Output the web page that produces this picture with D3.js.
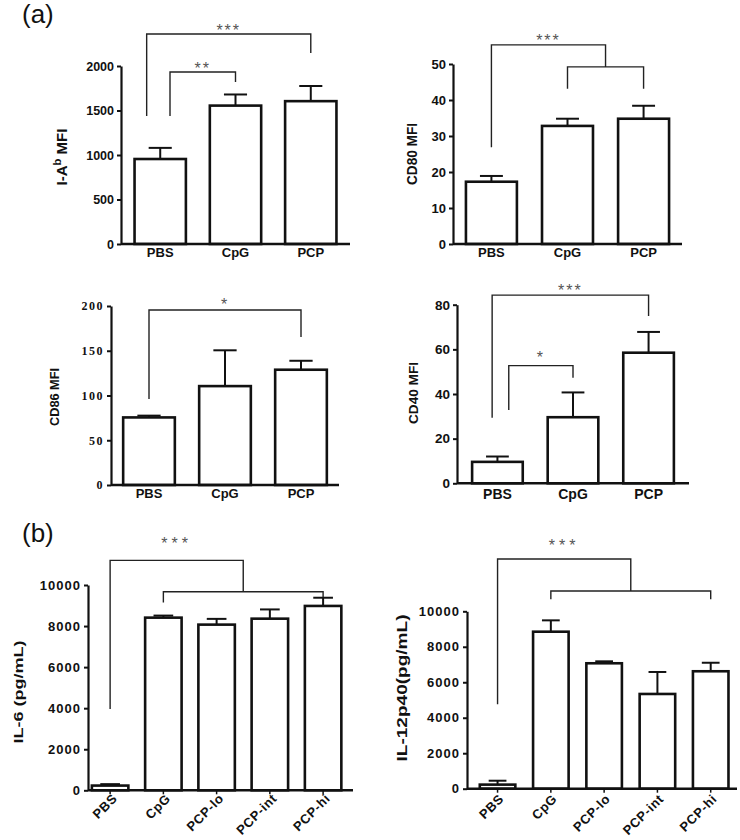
<!DOCTYPE html>
<html lang="en">
<head>
<meta charset="utf-8">
<script src="https://cdn.jsdelivr.net/npm/d3@7/dist/d3.min.js"></script>
<style>
  body { margin: 0; background: #fff; }
  svg { display: block; }
  text { font-family: "Liberation Sans", Arial, sans-serif; }
</style>
</head>
<body>
<svg id="chart" width="740" height="840"></svg>
<script>
// ---- data ----
var catsA = ["PBS", "CpG", "PCP"];
var catsB = ["PBS", "CpG", "PCP-lo", "PCP-int", "PCP-hi"];

var iabMean = [955, 1555, 1605];
var iabSem = [125, 125, 170];
var iabTicks = [0, 500, 1000, 1500, 2000];

var cd80Mean = [17.3, 32.8, 34.8];
var cd80Sem = [1.6, 2.0, 3.6];
var cd80Ticks = [0, 10, 20, 30, 40, 50];

var cd86Mean = [75.5, 110.5, 128.8];
var cd86Sem = [2, 40, 10];
var cd86Ticks = [0, 50, 100, 150, 200];

var cd40Mean = [9.6, 29.6, 58.5];
var cd40Sem = [2.4, 11.1, 9.3];
var cd40Ticks = [0, 20, 40, 60, 80];

var il6Mean = [230, 8410, 8070, 8360, 8980];
var il6Sem = [70, 100, 280, 450, 400];
var il12Mean = [230, 8850, 7070, 5340, 6620];
var il12Sem = [220, 640, 110, 1240, 480];
var cytTicks = [0, 2000, 4000, 6000, 8000, 10000];

var svg = d3.select("#chart");

function panel(c) {
  var g = svg.append("g");
  var x = d3.scaleBand().domain(c.cats).range([c.x0, c.x1])
    .paddingInner(c.pi).paddingOuter(c.po).align(c.align == null ? 0.5 : c.align);
  var y = d3.scaleLinear().domain([0, c.ymax]).range([c.yb, c.yt]);
  var bw = x.bandwidth();
  var pos = function(i) { return x(c.cats[0]) + bw / 2 + i * x.step(); };

  var rows = c.cats.map(function(k, i) { return {k: k, m: c.mean[i], e: c.sem[i]}; });

  // error bars
  g.selectAll(".eb").data(rows).enter().append("line")
    .attr("x1", function(d) { return x(d.k) + bw / 2; })
    .attr("x2", function(d) { return x(d.k) + bw / 2; })
    .attr("y1", function(d) { return y(d.m); })
    .attr("y2", function(d) { return y(d.m + d.e); })
    .attr("stroke", "#111").attr("stroke-width", 2);
  g.selectAll(".cap").data(rows).enter().append("line")
    .attr("x1", function(d) { return x(d.k) + bw / 2 - bw * c.cap / 2; })
    .attr("x2", function(d) { return x(d.k) + bw / 2 + bw * c.cap / 2; })
    .attr("y1", function(d) { return y(d.m + d.e); })
    .attr("y2", function(d) { return y(d.m + d.e); })
    .attr("stroke", "#111").attr("stroke-width", 2);

  // bars
  g.selectAll(".bar").data(rows).enter().append("rect")
    .attr("x", function(d) { return x(d.k); })
    .attr("y", function(d) { return y(d.m); })
    .attr("width", bw)
    .attr("height", function(d) { return y(0) - y(d.m); })
    .attr("fill", "#fff").attr("stroke", "#111").attr("stroke-width", 2.6);

  // y axis
  var ya = g.append("g").attr("transform", "translate(" + c.x0 + ",0)")
    .call(d3.axisLeft(y).tickValues(c.ticks).tickFormat(d3.format("d"))
      .tickSize(4).tickSizeOuter(0).tickPadding(3));
  ya.select(".domain").attr("stroke", "#111").attr("stroke-width", 2.2);
  ya.selectAll(".tick line").attr("stroke", "#111").attr("stroke-width", 2);
  ya.selectAll(".tick text").attr("fill", "#111")
    .style("font-family", c.tickFont || "'Liberation Sans', Arial, sans-serif")
    .style("font-size", c.tickSize + "px").style("font-weight", "bold")
    .style("letter-spacing", (c.tickLs || 0) + "px");

  // x axis
  var xa = g.append("g").attr("transform", "translate(0," + c.yb + ")")
    .call(d3.axisBottom(x).tickSize(c.xtick).tickSizeOuter(0).tickPadding(c.rot ? 0 : 3));
  xa.select(".domain").attr("d", "M" + c.x0 + ",0H" + c.x1)
    .attr("stroke", "#111").attr("stroke-width", 2.6);
  xa.selectAll(".tick line").attr("stroke", "#111").attr("stroke-width", 1.5);
  var xt = xa.selectAll(".tick text").attr("fill", "#111")
    .style("font-size", c.catSize + "px").style("font-weight", "bold");
  if (c.rot) {
    xt.attr("text-anchor", "end").attr("dy", null).attr("y", null)
      .attr("transform", "translate(" + c.rot[0] + "," + c.rot[1] + ") rotate(-45)")
      .style("letter-spacing", "0.6px");
  } else {
    xt.attr("y", c.catDy).attr("dy", null);
  }

  // y label
  var yl = g.append("text")
    .attr("transform", "translate(" + c.ylx + "," + c.yly + ") rotate(-90)")
    .attr("text-anchor", "middle").attr("dy", "0.35em")
    .attr("fill", "#111").style("font-weight", "bold").style("font-size", c.ylSize + "px");
  c.ylabel.forEach(function(p) {
    var t = yl.append("tspan").text(p.t);
    if (p.sup) t.attr("baseline-shift", "super").style("font-size", (c.ylSize * 0.75) + "px");
  });
  if (c.ylLen) yl.attr("textLength", c.ylLen).attr("lengthAdjust", "spacingAndGlyphs");

  // significance brackets
  (c.brackets || []).forEach(function(b) {
    var xa1 = pos(b.x1), xa2 = pos(b.x2), yy = y(b.y);
    g.append("path")
      .attr("d", "M" + xa1 + "," + y(b.l1) + "V" + yy + "H" + xa2 + "V" + y(b.l2))
      .attr("fill", "none").attr("stroke", "#222").attr("stroke-width", 1.4);
    if (b.label) {
      g.append("text").attr("x", (xa1 + xa2) / 2 + (b.ldx || 0))
        .attr("y", yy - b.gap + 0.56 * c.starSize)
        .attr("text-anchor", "middle").attr("fill", "#555")
        .style("font-size", c.starSize + "px").style("letter-spacing", c.starLs + "px")
        .text(b.label);
    }
  });
}

// panel letters
svg.append("text").attr("x", 22).attr("y", 23).style("font-size", "26px").attr("fill", "#111").text("(a)");
svg.append("text").attr("x", 22).attr("y", 542).style("font-size", "26px").attr("fill", "#111").text("(b)");

panel({
  cats: catsA, mean: iabMean, sem: iabSem, ticks: iabTicks, ymax: 2000,
  x0: 121, x1: 350, pi: 0.318, po: 0.18, yb: 244, yt: 66, cap: 0.45,
  tickSize: 12.5, catSize: 13, catDy: 13, xtick: 0,
  ylabel: [{t: "I-A"}, {t: "b", sup: true}, {t: " MFI"}], ylx: 62, yly: 157, ylSize: 15,
  starSize: 16, starLs: 2,
  brackets: [
    {x1: -0.18, x2: 2, y: 2360, l1: 1438, l2: 2146, label: "***", gap: 6.5},
    {x1: 0.13, x2: 1, y: 1933, l1: 1438, l2: 1820, label: "**", gap: 7}
  ]
});

panel({
  cats: catsA, mean: cd80Mean, sem: cd80Sem, ticks: cd80Ticks, ymax: 50,
  x0: 453, x1: 682, pi: 0.33, po: 0.17, yb: 244, yt: 64, cap: 0.45,
  tickSize: 13, catSize: 13, catDy: 13, xtick: 0,
  ylabel: [{t: "CD80 MFI"}], ylx: 412, yly: 154, ylSize: 14, ylLen: 62,
  starSize: 16, starLs: 2,
  brackets: [
    {x1: 0, x2: 1.5, y: 55.3, l1: 26.9, l2: 49.2, label: "***", gap: 8},
    {x1: 1, x2: 2, y: 49.2, l1: 43.1, l2: 43.1}
  ]
});

panel({
  cats: catsA, mean: cd86Mean, sem: cd86Sem, ticks: cd86Ticks, ymax: 200,
  x0: 111, x1: 339, pi: 0.32, po: 0.16, yb: 485, yt: 306, cap: 0.45,
  tickSize: 12, tickLs: 1.5, tickFont: "'Liberation Serif', 'Times New Roman', serif",
  catSize: 13, catDy: 13, xtick: 0,
  ylabel: [{t: "CD86 MFI"}], ylx: 54, yly: 397, ylSize: 13, ylLen: 58,
  starSize: 16, starLs: 2,
  brackets: [
    {x1: 0, x2: 2, y: 195.5, l1: 96, l2: 165.4, label: "*", gap: 9}
  ]
});

panel({
  cats: catsA, mean: cd40Mean, sem: cd40Sem, ticks: cd40Ticks, ymax: 80,
  x0: 457, x1: 689, pi: 0.33, po: 0.2, yb: 483.3, yt: 304.7, cap: 0.45,
  tickSize: 13.5, catSize: 14, catDy: 16, xtick: 0,
  ylabel: [{t: "CD40 MFI"}], ylx: 413, yly: 393, ylSize: 13.5, ylLen: 62,
  starSize: 16, starLs: 2,
  brackets: [
    {x1: -0.07, x2: 2, y: 84.3, l1: 29.4, l2: 74.9, label: "***", gap: 8},
    {x1: 0.15, x2: 1, y: 52.7, l1: 32.8, l2: 47.3, label: "*", gap: 11.7}
  ]
});

panel({
  cats: catsB, mean: il6Mean, sem: il6Sem, ticks: cytTicks, ymax: 10000,
  x0: 88, x1: 353, pi: 0.315, po: 0.146, align: 0.25, yb: 790.3, yt: 585, cap: 0.54,
  tickSize: 13, tickLs: 1, catSize: 13, xtick: 4, rot: [8, 9],
  ylabel: [{t: "IL-6 (pg/mL)"}], ylx: 18, yly: 692, ylSize: 13, ylLen: 103,
  starSize: 16, starLs: 4,
  brackets: [
    {x1: 0, x2: 2.5, y: 11200, l1: 3960, l2: 9670, label: "***", gap: 20},
    {x1: 1, x2: 4, y: 9670, l1: 9150, l2: 9400}
  ]
});

panel({
  cats: catsB, mean: il12Mean, sem: il12Sem, ticks: cytTicks, ymax: 10000,
  x0: 467, x1: 737, pi: 0.333, po: 0.2, align: 0.6, yb: 788.7, yt: 611.3, cap: 0.5,
  tickSize: 13, tickLs: 1, catSize: 13, xtick: 4, rot: [7, 11],
  ylabel: [{t: "IL-12p40(pg/mL)"}], ylx: 402.5, yly: 688, ylSize: 14, ylLen: 147,
  starSize: 16, starLs: 4,
  brackets: [
    {x1: 0, x2: 2.5, y: 12950, l1: 4760, l2: 11144, label: "***", gap: 17},
    {x1: 1, x2: 4, y: 11144, l1: 10680, l2: 10680}
  ]
});
</script>
</body>
</html>
